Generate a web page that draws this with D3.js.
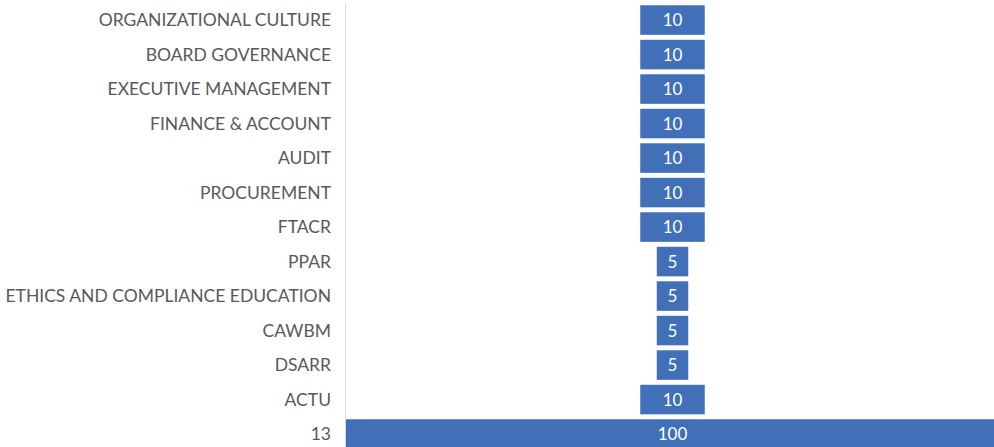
<!DOCTYPE html>
<html><head><meta charset="utf-8">
<script src="https://cdn.jsdelivr.net/npm/d3@7"></script>
<style>body{margin:0;background:#fff;overflow:hidden}</style>
</head><body>
<svg id="c" width="994" height="447"></svg>
<script>
const categories = ["ORGANIZATIONAL CULTURE","BOARD GOVERNANCE","EXECUTIVE MANAGEMENT","FINANCE & ACCOUNT","AUDIT","PROCUREMENT","FTACR","PPAR","ETHICS AND COMPLIANCE EDUCATION","CAWBM","DSARR","ACTU","13"];
const values = [10,10,10,10,10,10,10,5,5,5,5,10,100];

const svg = d3.select("#c");
const axisX = 345.5;
const x = d3.scaleLinear().domain([-50, 50]).range([342.5, 1002.5]);
const y = d3.scaleBand().domain(categories).range([2.8, 451.3]).paddingInner(0.1).paddingOuter(0.05);

svg.append("defs").append("clipPath").attr("id","plot")
  .append("rect").attr("x", axisX + 0.5).attr("y", 0).attr("width", 994).attr("height", 447);

const g = svg.append("g").attr("clip-path","url(#plot)");
g.selectAll("rect.bar").data(categories).join("rect")
  .attr("class","bar")
  .attr("x", (d,i) => x(-values[i]/2))
  .attr("width", (d,i) => x(values[i]/2) - x(-values[i]/2))
  .attr("y", d => y(d))
  .attr("height", y.bandwidth())
  .attr("fill", "#4170B9")
  .attr("stroke", "#fff")
  .attr("stroke-width", 1.5);

g.selectAll("text.val").data(categories).join("text")
  .attr("class","val")
  .attr("x", x(0))
  .attr("y", d => y(d) + y.bandwidth()/2)
  .attr("dy", "0.36em")
  .attr("text-anchor","middle")
  .attr("fill","#fff")
  .style("font-family","Lato, 'Open Sans', sans-serif")
  .style("font-size","17px")
  .text((d,i) => values[i]);

svg.append("line").attr("x1", axisX).attr("x2", axisX).attr("y1", 3).attr("y2", 447)
  .attr("stroke", "#d9d9d9").attr("stroke-width", 1);

svg.selectAll("text.cat").data(categories).join("text")
  .attr("class","cat")
  .attr("x", 331)
  .attr("y", d => y(d) + y.bandwidth()/2)
  .attr("dy", "0.36em")
  .attr("text-anchor","end")
  .attr("fill","#595959")
  .style("font-family","Lato, 'Open Sans', sans-serif")
  .style("font-size","17.5px")
  .text(d => d);
</script>
</body></html>
